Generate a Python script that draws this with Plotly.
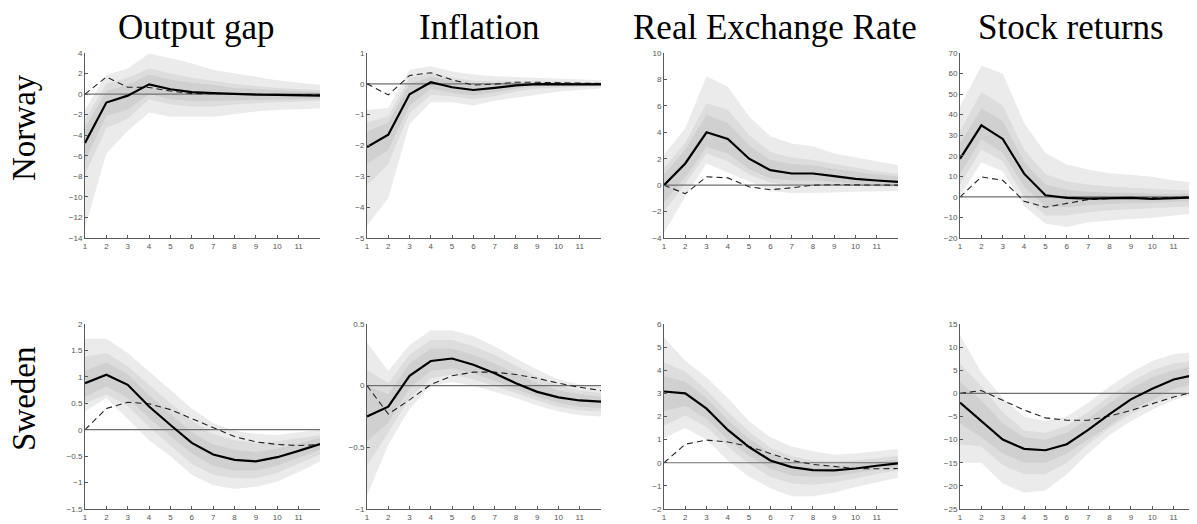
import plotly.graph_objects as go

W, H = 1197, 524
OFF = 8  # the page body adds an 8px margin; compensate so the picture lines up
horizons = list(range(1, 13))

col_titles = ["Output gap", "Inflation", "Real Exchange Rate", "Stock returns"]
row_titles = ["Norway", "Sweden"]

# ---------------- Norway ----------------
no_gap_med = [-4.75, -0.82, -0.15, 0.95, 0.47, 0.2, 0.1, 0.0, -0.05, -0.08, -0.12, -0.15]
no_gap_alt = [0.0, 1.67, 0.67, 0.65, 0.3, 0.05, 0.05, 0.0, -0.03, -0.05, -0.06, -0.08]
no_gap_o_hi = [-1.5, 1.85, 2.5, 3.95, 3.5, 3.0, 2.35, 2.0, 1.65, 1.35, 1.1, 0.9]
no_gap_o_lo = [-13.0, -5.8, -3.6, -1.8, -2.2, -2.2, -2.2, -1.95, -1.7, -1.55, -1.45, -1.4]
no_gap_m_hi = [-2.5, 1.0, 1.6, 2.5, 2.0, 1.6, 1.3, 1.0, 0.8, 0.6, 0.5, 0.4]
no_gap_m_lo = [-7.8, -3.3, -2.4, -0.5, -1.0, -1.2, -1.2, -1.0, -0.9, -0.8, -0.7, -0.65]
no_gap_i_hi = [-3.3, 0.3, 0.9, 1.9, 1.4, 1.1, 0.9, 0.6, 0.5, 0.4, 0.3, 0.2]
no_gap_i_lo = [-6.5, -2.1, -1.5, 0.0, -0.5, -0.7, -0.7, -0.6, -0.6, -0.5, -0.5, -0.45]

no_inf_med = [-2.05, -1.65, -0.34, 0.05, -0.11, -0.2, -0.13, -0.05, -0.01, -0.02, -0.02, -0.02]
no_inf_alt = [0.0, -0.36, 0.27, 0.36, 0.13, -0.04, -0.01, 0.05, 0.05, 0.04, 0.02, 0.01]
no_inf_o_hi = [-0.85, -0.78, 0.46, 0.57, 0.4, 0.3, 0.25, 0.22, 0.2, 0.18, 0.15, 0.12]
no_inf_o_lo = [-4.6, -3.7, -1.3, -0.6, -0.6, -0.7, -0.55, -0.45, -0.35, -0.25, -0.2, -0.15]
no_inf_m_hi = [-1.25, -1.05, 0.2, 0.35, 0.2, 0.1, 0.1, 0.1, 0.1, 0.08, 0.07, 0.05]
no_inf_m_lo = [-3.3, -2.6, -0.95, -0.35, -0.4, -0.5, -0.4, -0.25, -0.15, -0.12, -0.1, -0.08]
no_inf_i_hi = [-1.55, -1.25, 0.0, 0.22, 0.1, 0.0, 0.0, 0.03, 0.04, 0.03, 0.02, 0.02]
no_inf_i_lo = [-2.6, -2.15, -0.7, -0.15, -0.3, -0.38, -0.28, -0.15, -0.08, -0.07, -0.06, -0.05]

no_rer_med = [0.0, 1.64, 4.0, 3.5, 2.0, 1.13, 0.88, 0.88, 0.68, 0.48, 0.35, 0.25]
no_rer_alt = [0.0, -0.65, 0.63, 0.55, -0.12, -0.35, -0.2, 0.0, 0.03, 0.02, 0.0, 0.0]
no_rer_o_hi = [2.3, 4.3, 8.25, 7.45, 5.2, 3.7, 3.15, 2.95, 2.4, 2.1, 1.8, 1.5]
no_rer_o_lo = [-3.6, -0.85, 1.64, 0.95, 0.3, -0.45, -0.6, -0.6, -0.55, -0.5, -0.45, -0.45]
no_rer_m_hi = [1.3, 3.2, 6.2, 5.7, 3.8, 2.5, 2.1, 1.9, 1.6, 1.3, 1.05, 0.85]
no_rer_m_lo = [-2.0, 0.1, 2.4, 1.8, 0.8, 0.2, 0.0, 0.05, 0.0, -0.05, -0.1, -0.12]
no_rer_i_hi = [0.8, 2.7, 5.3, 4.7, 3.0, 1.9, 1.6, 1.5, 1.25, 1.0, 0.8, 0.65]
no_rer_i_lo = [-1.3, 0.6, 2.9, 2.4, 1.2, 0.5, 0.35, 0.35, 0.25, 0.1, 0.05, 0.0]

no_stk_med = [18.5, 34.8, 28.2, 11.3, 0.8, -0.5, -0.8, -0.8, -0.5, -1.0, -0.6, -0.2]
no_stk_alt = [0.0, 9.7, 8.1, -2.1, -5.0, -3.2, -1.3, -0.8, -0.5, -0.5, -0.3, 0.0]
no_stk_o_hi = [44.0, 63.8, 60.0, 36.0, 21.4, 15.7, 13.3, 11.5, 10.8, 9.8, 8.0, 7.0]
no_stk_o_lo = [0.3, 16.9, 12.5, -4.5, -13.0, -14.6, -12.3, -11.5, -10.8, -10.2, -9.0, -8.0]
no_stk_m_hi = [32.0, 51.0, 44.5, 23.0, 11.0, 7.5, 6.0, 5.0, 4.5, 4.0, 3.5, 3.0]
no_stk_m_lo = [6.0, 23.0, 17.5, 0.0, -9.0, -9.0, -7.5, -6.5, -6.0, -5.5, -5.0, -4.5]
no_stk_i_hi = [26.0, 43.0, 37.0, 17.0, 6.0, 3.5, 2.5, 2.0, 2.0, 1.5, 1.5, 1.5]
no_stk_i_lo = [11.0, 28.0, 21.5, 5.0, -4.5, -5.0, -4.0, -3.5, -3.0, -3.0, -2.5, -2.0]

# ---------------- Sweden ----------------
se_gap_med = [0.88, 1.04, 0.85, 0.44, 0.09, -0.25, -0.47, -0.57, -0.6, -0.52, -0.4, -0.27]
se_gap_alt = [0.0, 0.4, 0.52, 0.49, 0.38, 0.21, 0.03, -0.13, -0.23, -0.28, -0.3, -0.28]
se_gap_o_hi = [1.72, 1.72, 1.45, 1.1, 0.75, 0.4, 0.12, -0.02, -0.08, -0.1, -0.05, 0.0]
se_gap_o_lo = [0.35, 0.6, 0.2, -0.2, -0.5, -0.85, -1.05, -1.12, -1.08, -0.98, -0.8, -0.6]
se_gap_m_hi = [1.38, 1.45, 1.2, 0.85, 0.5, 0.17, -0.08, -0.2, -0.25, -0.22, -0.16, -0.1]
se_gap_m_lo = [0.5, 0.67, 0.45, 0.05, -0.3, -0.65, -0.85, -0.92, -0.92, -0.82, -0.65, -0.47]
se_gap_i_hi = [1.12, 1.27, 1.05, 0.65, 0.3, -0.05, -0.28, -0.38, -0.42, -0.36, -0.26, -0.15]
se_gap_i_lo = [0.62, 0.82, 0.6, 0.22, -0.12, -0.45, -0.68, -0.77, -0.77, -0.68, -0.53, -0.38]

se_inf_med = [-0.25, -0.17, 0.08, 0.2, 0.22, 0.17, 0.1, 0.02, -0.05, -0.095, -0.12, -0.13]
se_inf_alt = [0.0, -0.23, -0.115, 0.01, 0.08, 0.11, 0.11, 0.09, 0.06, 0.02, -0.013, -0.04]
se_inf_o_hi = [0.35, 0.12, 0.33, 0.45, 0.45, 0.4, 0.32, 0.22, 0.13, 0.05, 0.01, -0.01]
se_inf_o_lo = [-0.89, -0.48, -0.19, 0.0, 0.03, 0.0, -0.05, -0.1, -0.16, -0.21, -0.24, -0.25]
se_inf_m_hi = [0.13, 0.02, 0.25, 0.37, 0.37, 0.32, 0.25, 0.16, 0.07, 0.0, -0.04, -0.06]
se_inf_m_lo = [-0.65, -0.38, -0.1, 0.06, 0.09, 0.05, 0.0, -0.06, -0.12, -0.17, -0.2, -0.21]
se_inf_i_hi = [0.0, -0.07, 0.18, 0.3, 0.3, 0.25, 0.18, 0.1, 0.02, -0.04, -0.07, -0.09]
se_inf_i_lo = [-0.45, -0.3, -0.02, 0.12, 0.14, 0.1, 0.04, -0.03, -0.09, -0.14, -0.17, -0.18]

se_rer_med = [3.08, 3.0, 2.34, 1.42, 0.68, 0.1, -0.19, -0.32, -0.33, -0.25, -0.13, -0.03]
se_rer_alt = [0.0, 0.8, 0.98, 0.9, 0.7, 0.4, 0.1, -0.07, -0.17, -0.25, -0.26, -0.25]
se_rer_o_hi = [5.43, 4.4, 3.7, 2.8, 1.8, 1.1, 0.7, 0.5, 0.35, 0.4, 0.5, 0.6]
se_rer_o_lo = [1.08, 1.5, 1.0, 0.1, -0.6, -1.1, -1.45, -1.45, -1.3, -1.05, -0.85, -0.65]
se_rer_m_hi = [4.35, 3.95, 3.15, 2.2, 1.35, 0.65, 0.28, 0.1, 0.05, 0.1, 0.2, 0.3]
se_rer_m_lo = [1.6, 2.05, 1.55, 0.7, -0.05, -0.6, -0.9, -0.95, -0.85, -0.68, -0.48, -0.35]
se_rer_i_hi = [3.75, 3.5, 2.8, 1.85, 1.05, 0.4, 0.05, -0.1, -0.12, -0.05, 0.05, 0.13]
se_rer_i_lo = [2.25, 2.45, 1.9, 1.0, 0.3, -0.25, -0.55, -0.6, -0.58, -0.45, -0.3, -0.2]

se_stk_med = [-2.0, -6.0, -10.0, -12.0, -12.3, -11.0, -7.9, -4.5, -1.3, 1.0, 3.0, 4.0]
se_stk_alt = [0.0, 0.6, -1.5, -3.6, -5.3, -5.8, -5.8, -4.9, -3.7, -2.2, -0.8, 0.4]
se_stk_o_hi = [12.6, 4.5, -1.0, -5.0, -6.0, -5.0, -2.0, 1.5, 4.5, 7.0, 8.5, 9.0]
se_stk_o_lo = [-15.0, -15.0, -19.5, -21.5, -21.0, -17.5, -13.0, -9.0, -6.0, -3.5, -1.5, 0.0]
se_stk_m_hi = [6.5, 1.5, -4.0, -8.0, -8.5, -7.0, -4.0, -0.5, 2.5, 5.0, 6.5, 7.0]
se_stk_m_lo = [-11.0, -11.5, -15.5, -17.5, -17.5, -15.0, -11.0, -7.5, -4.5, -2.0, -0.5, 1.0]
se_stk_i_hi = [2.5, -1.5, -6.5, -9.5, -10.0, -8.5, -5.5, -2.0, 1.0, 3.5, 5.0, 6.0]
se_stk_i_lo = [-6.5, -9.5, -13.0, -15.0, -15.0, -13.0, -10.0, -7.0, -3.5, -1.5, 1.0, 2.0]

# y-axis ranges and tick values per panel
y_ranges = [[-14, 4], [-5, 1], [-4, 10], [-20, 70],
            [-1.5, 2], [-1, 0.5], [-2, 6], [-25, 15]]
y_ticks = [list(range(-14, 5, 2)), list(range(-5, 2, 1)), list(range(-4, 11, 2)), list(range(-20, 71, 10)),
           [-1.5, -1, -0.5, 0, 0.5, 1, 1.5, 2], [-1, -0.5, 0, 0.5], list(range(-2, 7, 1)), list(range(-25, 16, 5))]
x_ticks = list(range(1, 12))

panels = [
    (no_gap_med, no_gap_alt, no_gap_o_hi, no_gap_o_lo, no_gap_m_hi, no_gap_m_lo, no_gap_i_hi, no_gap_i_lo),
    (no_inf_med, no_inf_alt, no_inf_o_hi, no_inf_o_lo, no_inf_m_hi, no_inf_m_lo, no_inf_i_hi, no_inf_i_lo),
    (no_rer_med, no_rer_alt, no_rer_o_hi, no_rer_o_lo, no_rer_m_hi, no_rer_m_lo, no_rer_i_hi, no_rer_i_lo),
    (no_stk_med, no_stk_alt, no_stk_o_hi, no_stk_o_lo, no_stk_m_hi, no_stk_m_lo, no_stk_i_hi, no_stk_i_lo),
    (se_gap_med, se_gap_alt, se_gap_o_hi, se_gap_o_lo, se_gap_m_hi, se_gap_m_lo, se_gap_i_hi, se_gap_i_lo),
    (se_inf_med, se_inf_alt, se_inf_o_hi, se_inf_o_lo, se_inf_m_hi, se_inf_m_lo, se_inf_i_hi, se_inf_i_lo),
    (se_rer_med, se_rer_alt, se_rer_o_hi, se_rer_o_lo, se_rer_m_hi, se_rer_m_lo, se_rer_i_hi, se_rer_i_lo),
    (se_stk_med, se_stk_alt, se_stk_o_hi, se_stk_o_lo, se_stk_m_hi, se_stk_m_lo, se_stk_i_hi, se_stk_i_lo),
]

# pixel layout of axes (screen pixels in the target picture)
col_px = [(85, 320), (367, 601), (664, 898), (960, 1195)]
row_px = [(53, 238), (324, 509)]
band_colors = ["#ebebeb", "#dddddd", "#d0d0d0"]


def px_x(p):
    return (p - OFF) / W


def px_y(p):
    return 1 - (p - OFF) / H


fig = go.Figure()
layout = dict(width=W, height=H, margin=dict(l=0, r=0, t=0, b=0, pad=0, autoexpand=False),
              paper_bgcolor="white", plot_bgcolor="white", showlegend=False)

for k, p in enumerate(panels):
    r, c = divmod(k, 4)
    idx = "" if k == 0 else str(k + 1)
    xa, ya = "x" + idx, "y" + idx
    med, alt, ohi, olo, mhi, mlo, ihi, ilo = p
    for (hi, lo), col in zip([(ohi, olo), (mhi, mlo), (ihi, ilo)], band_colors):
        fig.add_trace(go.Scatter(x=horizons + horizons[::-1], y=hi + lo[::-1],
                                 fill="toself", fillcolor=col, line=dict(width=0),
                                 mode="lines", hoverinfo="skip", xaxis=xa, yaxis=ya))
    fig.add_trace(go.Scatter(x=[1, 12], y=[0, 0], mode="lines",
                             line=dict(color="#707070", width=1.2), xaxis=xa, yaxis=ya))
    fig.add_trace(go.Scatter(x=horizons, y=alt, mode="lines",
                             line=dict(color="#222222", width=1.1, dash="6px,4px"), xaxis=xa, yaxis=ya))
    fig.add_trace(go.Scatter(x=horizons, y=med, mode="lines",
                             line=dict(color="black", width=2.2), xaxis=xa, yaxis=ya))
    x0, x1 = col_px[c]
    y0, y1 = row_px[r]
    axcommon = dict(showgrid=False, zeroline=False, showline=True, linecolor="#5a5a5a", linewidth=1,
                    ticks="inside", ticklen=3, tickcolor="#5a5a5a",
                    tickfont=dict(family="Liberation Sans, Arial, sans-serif", size=8, color="#555555"))
    layout["xaxis" + idx] = dict(axcommon, domain=[px_x(x0), px_x(x1)], range=[1, 12],
                                 tickvals=x_ticks, anchor=ya)
    layout["yaxis" + idx] = dict(axcommon, domain=[px_y(y1), px_y(y0)], range=y_ranges[k],
                                 tickvals=y_ticks[k], anchor=xa)

annotations = []
title_cx = [196, 479, 775, 1071]
for t, cx in zip(col_titles, title_cx):
    annotations.append(dict(text=t, x=px_x(cx), y=px_y(28), xref="paper", yref="paper",
                            showarrow=False, xanchor="center", yanchor="middle",
                            font=dict(family="Liberation Serif, DejaVu Serif, serif", size=35, color="black")))
for t, cy in zip(row_titles, [128, 399]):
    annotations.append(dict(text=t, x=px_x(24), y=px_y(cy), xref="paper", yref="paper",
                            showarrow=False, xanchor="center", yanchor="middle", textangle=-90,
                            font=dict(family="Liberation Serif, DejaVu Serif, serif", size=33, color="black")))
layout["annotations"] = annotations
fig.update_layout(**layout)
fig.write_html("out.html")
